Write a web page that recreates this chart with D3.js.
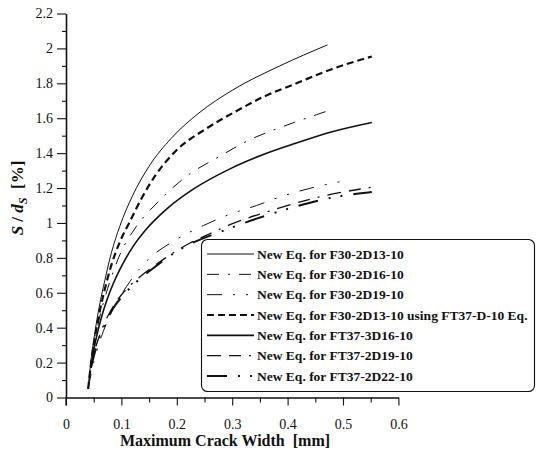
<!DOCTYPE html>
<html>
<head>
<meta charset="utf-8">
<script src="https://cdn.jsdelivr.net/npm/d3@7"></script>
<style>
  html, body { margin: 0; padding: 0; background: #fff; }
  svg { display: block; }
  text { font-family: "Liberation Serif", "Times New Roman", serif; fill: #111; }
</style>
</head>
<body>
<svg id="chart" width="536" height="457"></svg>
<script>
// Legend labels, in drawing order
const seriesNames = [
  "New Eq. for F30-2D13-10",
  "New Eq. for F30-2D16-10",
  "New Eq. for F30-2D19-10",
  "New Eq. for F30-2D13-10 using FT37-D-10 Eq.",
  "New Eq. for FT37-3D16-10",
  "New Eq. for FT37-2D19-10",
  "New Eq. for FT37-2D22-10"
];

// [maximum crack width (mm), S/dS (%)]
const f30_2d13 = [[0.040,0.05],[0.045,0.21],[0.052,0.37],[0.060,0.52],[0.070,0.67],[0.082,0.83],[0.097,0.98],[0.120,1.155],[0.150,1.325],[0.190,1.485],[0.240,1.63],[0.300,1.76],[0.386,1.90],[0.472,2.02]];
const f30_2d16 = [[0.040,0.05],[0.045,0.18],[0.052,0.32],[0.060,0.45],[0.070,0.57],[0.082,0.69],[0.0975,0.82],[0.127,0.98],[0.166,1.12],[0.217,1.266],[0.277,1.381],[0.332,1.477],[0.392,1.553],[0.452,1.62],[0.4825,1.653]];
const f30_2d19 = [[0.040,0.05],[0.047,0.16],[0.055,0.26],[0.064,0.35],[0.075,0.44],[0.087,0.52],[0.100,0.59],[0.1155,0.665],[0.1336,0.74],[0.1516,0.80],[0.1937,0.895],[0.248,0.985],[0.296,1.05],[0.344,1.10],[0.392,1.155],[0.446,1.203],[0.497,1.238]];
const f30_2d13_ft37 = [[0.040,0.05],[0.045,0.19],[0.052,0.34],[0.060,0.48],[0.070,0.62],[0.082,0.76],[0.097,0.89],[0.114,1.00],[0.138,1.15],[0.162,1.275],[0.199,1.415],[0.253,1.54],[0.307,1.64],[0.356,1.722],[0.416,1.80],[0.477,1.878],[0.552,1.954]];
const ft37_3d16 = [[0.045,0.17],[0.050,0.27],[0.056,0.36],[0.064,0.46],[0.074,0.56],[0.085,0.65],[0.0975,0.735],[0.120,0.86],[0.146,0.968],[0.181,1.078],[0.229,1.192],[0.296,1.31],[0.356,1.392],[0.416,1.458],[0.477,1.52],[0.552,1.576]];
const ft37_2d19 = [[0.045,0.17],[0.052,0.27],[0.060,0.35],[0.070,0.43],[0.083,0.51],[0.098,0.58],[0.115,0.64],[0.134,0.693],[0.170,0.779],[0.224,0.885],[0.254,0.930],[0.296,0.99],[0.374,1.075],[0.452,1.145],[0.552,1.205]];
const ft37_2d22 = [[0.045,0.17],[0.053,0.27],[0.061,0.35],[0.070,0.417],[0.085,0.51],[0.107,0.598],[0.125,0.656],[0.158,0.742],[0.200,0.837],[0.296,0.97],[0.356,1.037],[0.416,1.095],[0.477,1.143],[0.552,1.177]];

const seriesValues = [f30_2d13, f30_2d16, f30_2d19, f30_2d13_ft37, ft37_3d16, ft37_2d19, ft37_2d22];

// Axis ticks
const xTickValues = [0, 0.1, 0.2, 0.3, 0.4, 0.5, 0.6];
const xMinorValues = [0.05, 0.15, 0.25, 0.35, 0.45, 0.55];
const yTickValues = [0, 0.2, 0.4, 0.6, 0.8, 1, 1.2, 1.4, 1.6, 1.8, 2, 2.2];
const yMinorValues = [0.1, 0.3, 0.5, 0.7, 0.9, 1.1, 1.3, 1.5, 1.7, 1.9, 2.1];

// Line styles per series
const styles = [
  { width: 1.0, dash: null },
  { width: 1.0, dash: "12,9,2,9" },
  { width: 1.0, dash: "15,11,2,11,2,11" },
  { width: 2.2, dash: "7,4" },
  { width: 1.6, dash: null },
  { width: 1.3, dash: "14,8,12,8,2,8" },
  { width: 2.0, dash: "20,11,2,10,2,11" }
];

const svg = d3.select("#chart");
const x = d3.scaleLinear().domain([0, 0.6]).range([66, 398.4]);
const y = d3.scaleLinear().domain([0, 2.2]).range([397.5, 13.5]);

// Curves
const line = d3.line()
  .x(d => x(d[0]))
  .y(d => y(d[1]))
  .curve(d3.curveMonotoneX);

svg.append("g").selectAll("path")
  .data(seriesValues)
  .join("path")
  .attr("d", d => line(d))
  .attr("fill", "none")
  .attr("stroke", "#111")
  .attr("stroke-width", (d, i) => styles[i].width)
  .attr("stroke-dasharray", (d, i) => styles[i].dash);

// X axis
svg.append("g")
  .attr("transform", `translate(0,${y(0)})`)
  .call(d3.axisBottom(x).tickValues(xTickValues).tickSize(8).tickSizeOuter(0)
    .tickPadding(14).tickFormat(d => String(d)));
svg.append("g")
  .attr("transform", `translate(0,${y(0)})`)
  .call(d3.axisBottom(x).tickValues(xMinorValues).tickSize(5).tickFormat(""))
  .call(g => g.select(".domain").remove());

// Y axis
svg.append("g")
  .attr("transform", `translate(${x(0)},0)`)
  .call(d3.axisLeft(y).tickValues(yTickValues).tickSize(9).tickSizeOuter(0)
    .tickPadding(4).tickFormat(d => String(d)));
svg.append("g")
  .attr("transform", `translate(${x(0)},0)`)
  .call(d3.axisLeft(y).tickValues(yMinorValues).tickSize(4).tickFormat(""))
  .call(g => g.select(".domain").remove());

// Extension of the y axis below the x axis
svg.append("line")
  .attr("x1", x(0)).attr("x2", x(0))
  .attr("y1", y(0)).attr("y2", y(0) + 8)
  .attr("stroke", "#111").attr("stroke-width", 1.3);

svg.selectAll(".domain").attr("stroke", "#111").attr("stroke-width", 1.6);
svg.selectAll(".tick line").attr("stroke", "#111").attr("stroke-width", 1.1);
svg.selectAll(".tick text")
  .style("font-family", "'Liberation Serif', serif")
  .style("font-size", "14px")
  .attr("fill", "#111");

// Axis titles
svg.append("text")
  .attr("x", 225).attr("y", 446)
  .attr("text-anchor", "middle")
  .style("font-size", "16px").style("font-weight", "bold")
  .text("Maximum Crack Width\u00a0\u00a0[mm]");

const yTitle = svg.append("text")
  .attr("transform", "translate(23,198) rotate(-90)")
  .attr("text-anchor", "middle")
  .style("font-size", "17px").style("font-weight", "bold");
yTitle.append("tspan").style("font-style", "italic").text("S");
yTitle.append("tspan").text("\u00a0/\u00a0");
yTitle.append("tspan").style("font-style", "italic").text("d");
yTitle.append("tspan").style("font-style", "italic").style("font-size", "12px")
  .attr("dy", 4).text("S");
yTitle.append("tspan").attr("dy", -4).text("\u00a0\u00a0[%]");

// Legend
const legend = svg.append("g");
legend.append("rect")
  .attr("x", 201.5).attr("y", 239.5)
  .attr("width", 333).attr("height", 152)
  .attr("rx", 6).attr("ry", 6)
  .attr("fill", "#fff")
  .attr("stroke", "#111").attr("stroke-width", 1.1);

const rowY = d3.scaleLinear().domain([0, 6]).range([254, 376]);
const rows = legend.selectAll("g.row")
  .data(seriesNames)
  .join("g")
  .attr("class", "row")
  .attr("transform", (d, i) => `translate(0,${rowY(i)})`);
rows.append("line")
  .attr("x1", 207).attr("x2", 254)
  .attr("y1", 0).attr("y2", 0)
  .attr("stroke", "#111")
  .attr("stroke-width", (d, i) => styles[i].width)
  .attr("stroke-dasharray", (d, i) => styles[i].dash);
rows.append("text")
  .attr("x", 257).attr("y", 4.5)
  .style("font-size", "13.5px").style("font-weight", "bold")
  .text(d => d);
</script>
</body>
</html>
